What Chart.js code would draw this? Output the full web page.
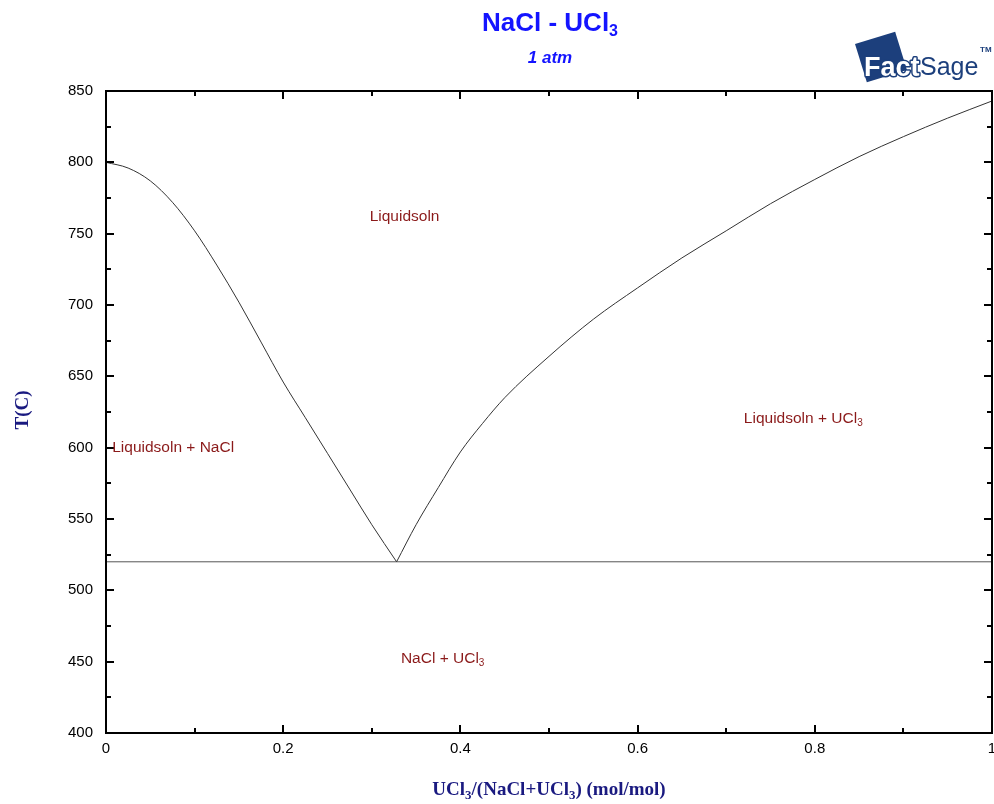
<!DOCTYPE html>
<html>
<head>
<meta charset="utf-8">
<script src="https://cdn.jsdelivr.net/npm/chart.js@4.4.1/dist/chart.umd.min.js"></script>
<style>
  html, body { margin: 0; padding: 0; background: #fff; }
  #wrap { width: 994px; height: 804px; }
</style>
</head>
<body>
<div id="wrap"><canvas id="c" width="994" height="804"></canvas></div>
<script>
// NaCl - UCl3 phase diagram at 1 atm
const leftLiquidusX = [0, 0.025, 0.05, 0.075, 0.1, 0.125, 0.15, 0.175, 0.2, 0.225, 0.25, 0.275, 0.3, 0.328];
const leftLiquidusT = [800, 796, 787, 772, 752, 728, 702, 674, 646, 621, 596, 571, 546, 520];

const rightLiquidusX = [0.328, 0.35, 0.375, 0.4, 0.425, 0.45, 0.5, 0.55, 0.6, 0.65, 0.7, 0.75, 0.8, 0.85, 0.9, 0.95, 1.0];
const rightLiquidusT = [520, 546, 572, 597, 617, 635, 664, 690, 712, 733, 752, 771, 788, 804, 818, 831, 843];

const eutecticX = [0, 1];
const eutecticT = [520, 520];

const xTicks = [0, 0.2, 0.4, 0.6, 0.8, 1];
const yTicks = [400, 450, 500, 550, 600, 650, 700, 750, 800, 850];

// Phase-field labels: [text, subscript, x, T, align]
const phaseLabels = [
  ['Liquidsoln', '', 0.337, 762, 'center'],
  ['Liquidsoln + NaCl', '', 0.007, 600, 'left'],
  ['Liquidsoln + UCl', '3', 0.787, 620, 'center'],
  ['NaCl + UCl', '3', 0.38, 452, 'center']
];

const toPts = (xs, ys) => xs.map((x, i) => ({ x: x, y: ys[i] }));

// Helpers for text runs made of [text, subscript] pieces
function measureRuns(ctx, runs, font, subFont) {
  let w = 0;
  runs.forEach(([m, s]) => {
    ctx.font = font; w += ctx.measureText(m).width;
    if (s) { ctx.font = subFont; w += ctx.measureText(s).width; }
  });
  return w;
}
function drawRuns(ctx, runs, x, y, align, font, subFont, subDrop) {
  const total = measureRuns(ctx, runs, font, subFont);
  let px = x;
  if (align === 'center') px = x - total / 2;
  else if (align === 'right') px = x - total;
  ctx.textAlign = 'left';
  runs.forEach(([m, s]) => {
    ctx.font = font;
    ctx.fillText(m, px, y);
    px += ctx.measureText(m).width;
    if (s) {
      ctx.font = subFont;
      ctx.fillText(s, px, y + subDrop);
      px += ctx.measureText(s).width;
    }
  });
}

const decorations = {
  id: 'decorations',
  afterDatasetsDraw(chart) {
    const ctx = chart.ctx;
    const xs = chart.scales.x, ys = chart.scales.y;
    const a = chart.chartArea;
    ctx.save();

    // Inward tick marks on all four sides
    ctx.strokeStyle = '#000';
    ctx.lineWidth = 2;
    for (let i = 0; i <= 10; i++) {
      const px = Math.round(xs.getPixelForValue(i / 10));
      const len = (i % 2 === 0) ? 8 : 5;
      ctx.beginPath();
      ctx.moveTo(px, a.bottom); ctx.lineTo(px, a.bottom - len);
      ctx.moveTo(px, a.top); ctx.lineTo(px, a.top + len);
      ctx.stroke();
    }
    for (let t = 400; t <= 850; t += 25) {
      const py = Math.round(ys.getPixelForValue(t));
      const len = (t % 50 === 0) ? 8 : 5;
      ctx.beginPath();
      ctx.moveTo(a.left, py); ctx.lineTo(a.left + len, py);
      ctx.moveTo(a.right, py); ctx.lineTo(a.right - len, py);
      ctx.stroke();
    }
    // Frame
    ctx.strokeRect(a.left, a.top, a.right - a.left, a.bottom - a.top);

    // Phase labels
    ctx.fillStyle = '#8b1a1a';
    ctx.textBaseline = 'middle';
    const lf = '15.5px "Liberation Sans", Arial, sans-serif';
    const lsf = '10px "Liberation Sans", Arial, sans-serif';
    phaseLabels.forEach(([txt, sub, x, t, align]) => {
      drawRuns(ctx, [[txt, sub]], xs.getPixelForValue(x), ys.getPixelForValue(t), align, lf, lsf, 4);
    });

    // Title and subtitle
    ctx.fillStyle = '#1414ff';
    ctx.textBaseline = 'alphabetic';
    drawRuns(ctx, [['NaCl - UCl', '3']], 550, 31, 'center',
      'bold 26px "Liberation Sans", Arial, sans-serif', 'bold 16px "Liberation Sans", Arial, sans-serif', 5);
    ctx.font = 'italic bold 17px "Liberation Sans", Arial, sans-serif';
    ctx.textAlign = 'center';
    ctx.fillText('1 atm', 550, 63);

    // Axis titles
    ctx.fillStyle = '#1a1a80';
    const mainF = 'bold 19px "Liberation Serif", "Times New Roman", serif';
    const subF = 'bold 13px "Liberation Serif", "Times New Roman", serif';
    drawRuns(ctx, [['UCl', '3'], ['/(NaCl+UCl', '3'], [') (mol/mol)', '']], 549, 795, 'center', mainF, subF, 4);
    ctx.save();
    ctx.translate(28, 410);
    ctx.rotate(-Math.PI / 2);
    ctx.font = mainF;
    ctx.textAlign = 'center';
    ctx.fillText('T(C)', 0, 0);
    ctx.restore();

    // FactSage logo
    ctx.save();
    ctx.translate(881, 57);
    ctx.rotate(-0.30);
    ctx.fillStyle = '#1c3f7c';
    ctx.fillRect(-21, -20, 42, 40);
    ctx.restore();
    ctx.textBaseline = 'alphabetic';
    ctx.textAlign = 'left';
    ctx.font = 'bold 27px "Liberation Sans", Arial, sans-serif';
    ctx.lineWidth = 3;
    ctx.lineJoin = 'round';
    ctx.strokeStyle = '#1c3f7c';
    ctx.strokeText('Fact', 864, 76);
    ctx.fillStyle = '#ffffff';
    ctx.fillText('Fact', 864, 76);
    ctx.fillStyle = '#1c3f7c';
    ctx.font = '25px "Liberation Sans Narrow", "Liberation Sans", Arial, sans-serif';
    ctx.fillText('Sage', 920, 75);
    ctx.font = 'bold 8px "Liberation Sans", Arial, sans-serif';
    ctx.fillText('TM', 980, 52);

    ctx.restore();
  }
};

const lineStyle = { borderColor: '#333333', borderWidth: 1, pointRadius: 0, fill: false, tension: 0 };

new Chart(document.getElementById('c'), {
  type: 'scatter',
  data: {
    datasets: [
      Object.assign({ label: 'NaCl liquidus', data: toPts(leftLiquidusX, leftLiquidusT), showLine: true }, lineStyle, { cubicInterpolationMode: 'monotone' }),
      Object.assign({ label: 'UCl3 liquidus', data: toPts(rightLiquidusX, rightLiquidusT), showLine: true }, lineStyle, { cubicInterpolationMode: 'monotone' }),
      Object.assign({ label: 'Eutectic', data: toPts(eutecticX, eutecticT), showLine: true }, lineStyle, { borderColor: '#555555' })
    ]
  },
  options: {
    responsive: false,
    animation: false,
    events: [],
    layout: { padding: { left: 0, right: 2, top: 91, bottom: 0 } },
    plugins: { legend: { display: false }, tooltip: { enabled: false }, title: { display: false } },
    scales: {
      x: {
        type: 'linear', min: 0, max: 1,
        afterFit: s => { s.height = 71; s.paddingLeft = 0; s.paddingRight = 0; },
        afterBuildTicks: s => { s.ticks = xTicks.map(v => ({ value: v })); },
        grid: { display: false, drawTicks: false },
        border: { display: false },
        ticks: {
          color: '#000', padding: 7, maxRotation: 0,
          font: { family: '"Liberation Sans", Arial, sans-serif', size: 15 },
          callback: v => String(Math.round(v * 10) / 10)
        }
      },
      y: {
        type: 'linear', min: 400, max: 850,
        afterFit: s => { s.width = 106; s.paddingTop = 0; s.paddingBottom = 0; },
        afterBuildTicks: s => { s.ticks = yTicks.map(v => ({ value: v })); },
        grid: { display: false, drawTicks: false },
        border: { display: false },
        ticks: {
          color: '#000', padding: 13,
          font: { family: '"Liberation Sans", Arial, sans-serif', size: 15 }
        }
      }
    }
  },
  plugins: [decorations]
});
</script>
</body>
</html>
